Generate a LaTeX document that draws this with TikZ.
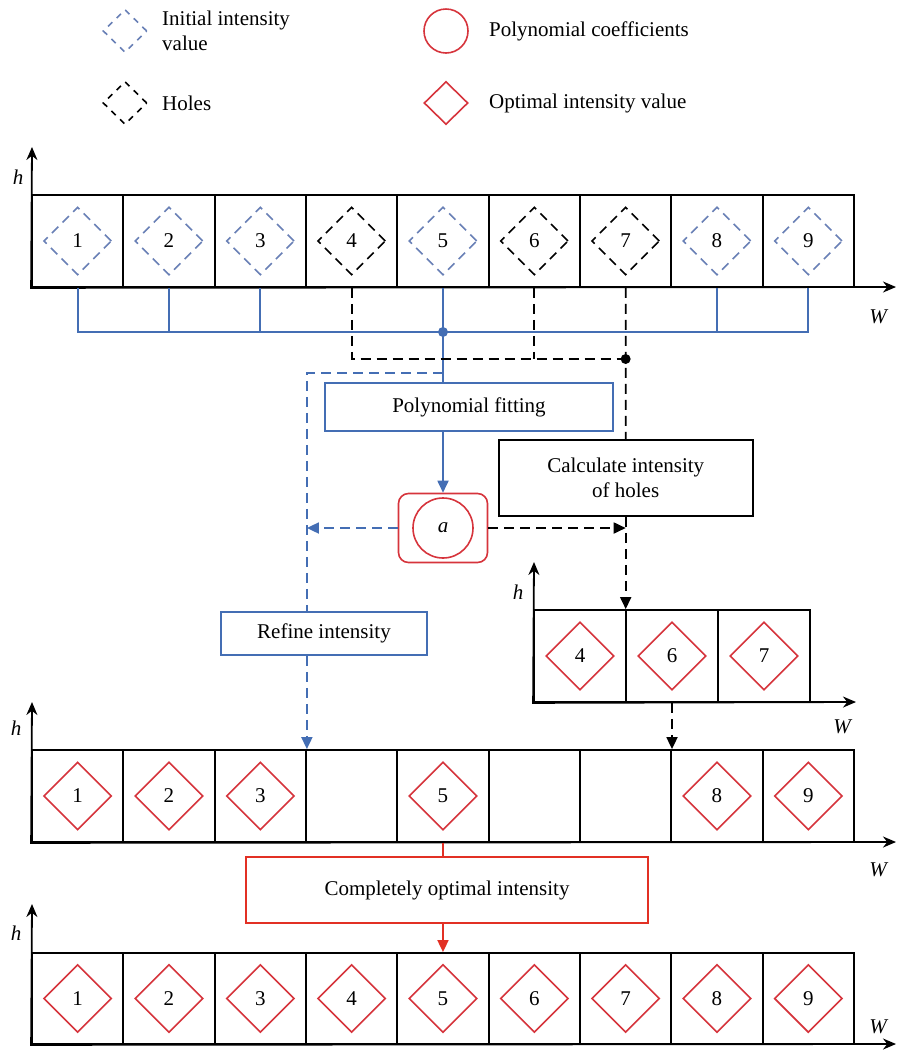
\documentclass[tikz,border=0pt]{standalone}
\usepackage{fontspec}
\setmainfont{Liberation Serif}
\usetikzlibrary{shapes.geometric,arrows.meta}
\definecolor{bl}{RGB}{68,110,180}
\definecolor{dbl}{RGB}{105,128,182}
\definecolor{rd}{RGB}{214,52,60}
\definecolor{rr}{RGB}{226,48,36}
\begin{document}
\begin{tikzpicture}[x=1pt,y=-1pt,
 every node/.style={font=\fontsize{21}{25}\selectfont},
 cellbox/.style={draw=black, line width=1.8pt, minimum width=91.33pt, minimum height=92pt, inner sep=0pt, fill=white},
 dia/.style={diamond, minimum width=68pt, minimum height=68pt, inner sep=0pt, line width=1.6pt},
 initdia/.style={dia, draw=dbl, dash pattern=on 9pt off 6pt},
 holedia/.style={dia, draw=black, dash pattern=on 9pt off 6pt},
 optdia/.style={dia, draw=rd},
 axis/.style={line width=1.8pt, {Stealth[length=13pt,width=11pt]}-{Stealth[length=13pt,width=11pt]}},
 tip/.style={-{Triangle[length=12pt,width=11pt]}},
 bline/.style={draw=bl, line width=1.8pt},
 bdash/.style={draw=bl, line width=1.8pt, dash pattern=on 10pt off 6pt},
 kdash/.style={draw=black, line width=1.8pt, dash pattern=on 10pt off 6pt},
 rline/.style={draw=rr, line width=1.8pt},
 procbox/.style={line width=1.8pt, fill=white, inner sep=0pt, align=center},
 lbl/.style={font=\fontsize{21}{25}\selectfont\itshape, inner sep=0pt}
]
\useasboundingbox (0,0) rectangle (897,1053);

% legend
\node[initdia, minimum width=44pt, minimum height=43pt, dash pattern=on 6pt off 6pt] (l1) at (125,31) {};
\node[anchor=west, align=left, inner sep=0pt] (l1t) at (162,31) {Initial intensity\\value};
\node[holedia, minimum width=44pt, minimum height=43pt, dash pattern=on 6pt off 6pt] (l2) at (125,103) {};
\node[anchor=west, inner sep=0pt] (l2t) at (162,103) {Holes};
\node[circle, draw=rd, line width=1.6pt, minimum size=44pt] (l3) at (446,31) {};
\node[anchor=west, inner sep=0pt] (l3t) at (489,31) {Polynomial coefficients};
\node[optdia, minimum width=44pt, minimum height=43pt] (l4) at (446,103) {};
\node[anchor=west, inner sep=0pt] (l4t) at (489,103) {Optimal intensity value};

% top row
\foreach \i/\s in {1/initdia,2/initdia,3/initdia,4/holedia,5/initdia,6/holedia,7/holedia,8/initdia,9/initdia}{
  \node[cellbox] (t\i) at ({32+91.33*(\i-0.5)},241) {};
  \node[\s] (td\i) at (t\i) {\i};
}
\coordinate (tH) at (32,147);
\coordinate (tW) at (896,287);
\draw[axis] (tH) -- (t1.south west) -- (tW);
\node[lbl] (th) at (18,177) {h};
\node[lbl] (tw) at (878,317) {W};

% middle row
\foreach \i in {1,...,9}{
  \node[cellbox] (m\i) at ({32+91.33*(\i-0.5)},796) {};
}
\foreach \i in {1,2,3,5,8,9}{
  \node[optdia] (md\i) at (m\i) {\i};
}
\coordinate (mH) at (32,702);
\coordinate (mW) at (896,842);
\draw[axis] (mH) -- (m1.south west) -- (mW);
\node[lbl] (mh) at (16,728) {h};
\node[lbl] (mw) at (878,870) {W};

% bottom row
\foreach \i in {1,...,9}{
  \node[cellbox, minimum height=91pt] (b\i) at ({32+91.33*(\i-0.5)},998.5) {};
  \node[optdia] (bd\i) at (b\i) {\i};
}
\coordinate (bH) at (32,904);
\coordinate (bW) at (896,1044);
\draw[axis] (bH) -- (b1.south west) -- (bW);
\node[lbl] (bh) at (16,933) {h};
\node[lbl] (bw) at (878,1027) {W};

% small row
\foreach \i/\n in {1/4,2/6,3/7}{
  \node[cellbox, minimum width=92pt] (s\i) at ({534+92*(\i-0.5)},656) {};
  \node[optdia] (sd\i) at (s\i) {\n};
}
\coordinate (sH) at (534,562);
\coordinate (sW) at (856,702);
\draw[axis] (sH) -- (s1.south west) -- (sW);
\node[lbl] (sh) at (518,592) {h};
\node[lbl] (sw) at (842,727) {W};

% process boxes
\node[procbox, draw=bl, minimum width=288pt, minimum height=48pt] (poly) at (469,407) {Polynomial fitting};
\node[procbox, draw=black, minimum width=254pt, minimum height=76pt] (calc) at (625.7,478) {Calculate intensity\\of holes};
\node[draw=rd, line width=1.6pt, rounded corners=10pt, minimum width=89pt, minimum height=69pt, inner sep=0pt] (abox) at (443,528) {};
\node[circle, draw=rd, line width=1.6pt, minimum size=60pt, inner sep=0pt, font=\fontsize{21}{25}\selectfont\itshape] (acirc) at (abox) {a};
\node[procbox, draw=bl, minimum width=206pt, minimum height=43pt] (refine) at (324,633.5) {Refine intensity};
\node[procbox, draw=rr, minimum width=402pt, minimum height=66pt] (opt) at (447,890) {Completely optimal intensity};

% blue solid bus
\coordinate (bus) at (443,332);
\draw[bline] (t1.south) -- (t1.south |- bus) -- (t9.south |- bus) -- (t9.south);
\foreach \i in {2,3,8}{ \draw[bline] (t\i.south) -- (t\i.south |- bus); }
\draw[bline] (t5.south) -- (t5.south |- poly.north);
\fill[bl] (t5.south |- bus) circle (5pt);
\draw[bline, tip] (poly.south -| abox.north) -- (abox.north);

% black dashed bus
\coordinate (hy) at (0,359);
\draw[kdash] (t4.south) -- (t4.south |- hy) -- (t7.south |- hy);
\draw[kdash] (t6.south) -- (t6.south |- hy);
\draw[kdash] (t7.south) -- (calc.north);
\fill (t7.south |- hy) circle (5pt);
\draw[kdash, tip] (calc.south) -- (calc.south |- s1.north);
\draw[kdash, tip] (abox.east) -- (abox.east -| calc.south);
\draw[kdash, tip] (s2.south) -- (s2.south |- m8.north);

% blue dashed path
\coordinate (by) at (0,373);
\draw[bdash] (t5.south |- by) -- (m3.north east |- by) -- (refine.north -| m3.north east);
\draw[bdash, tip] (refine.south -| m3.north east) -- (m3.north east);
\draw[bdash, tip] (abox.west) -- (abox.west -| m3.north east);

% red
\draw[rline] (m5.south) -- (m5.south |- opt.north);
\draw[rline, tip] (opt.south -| b5.north) -- (b5.north);
\end{tikzpicture}
\end{document}
